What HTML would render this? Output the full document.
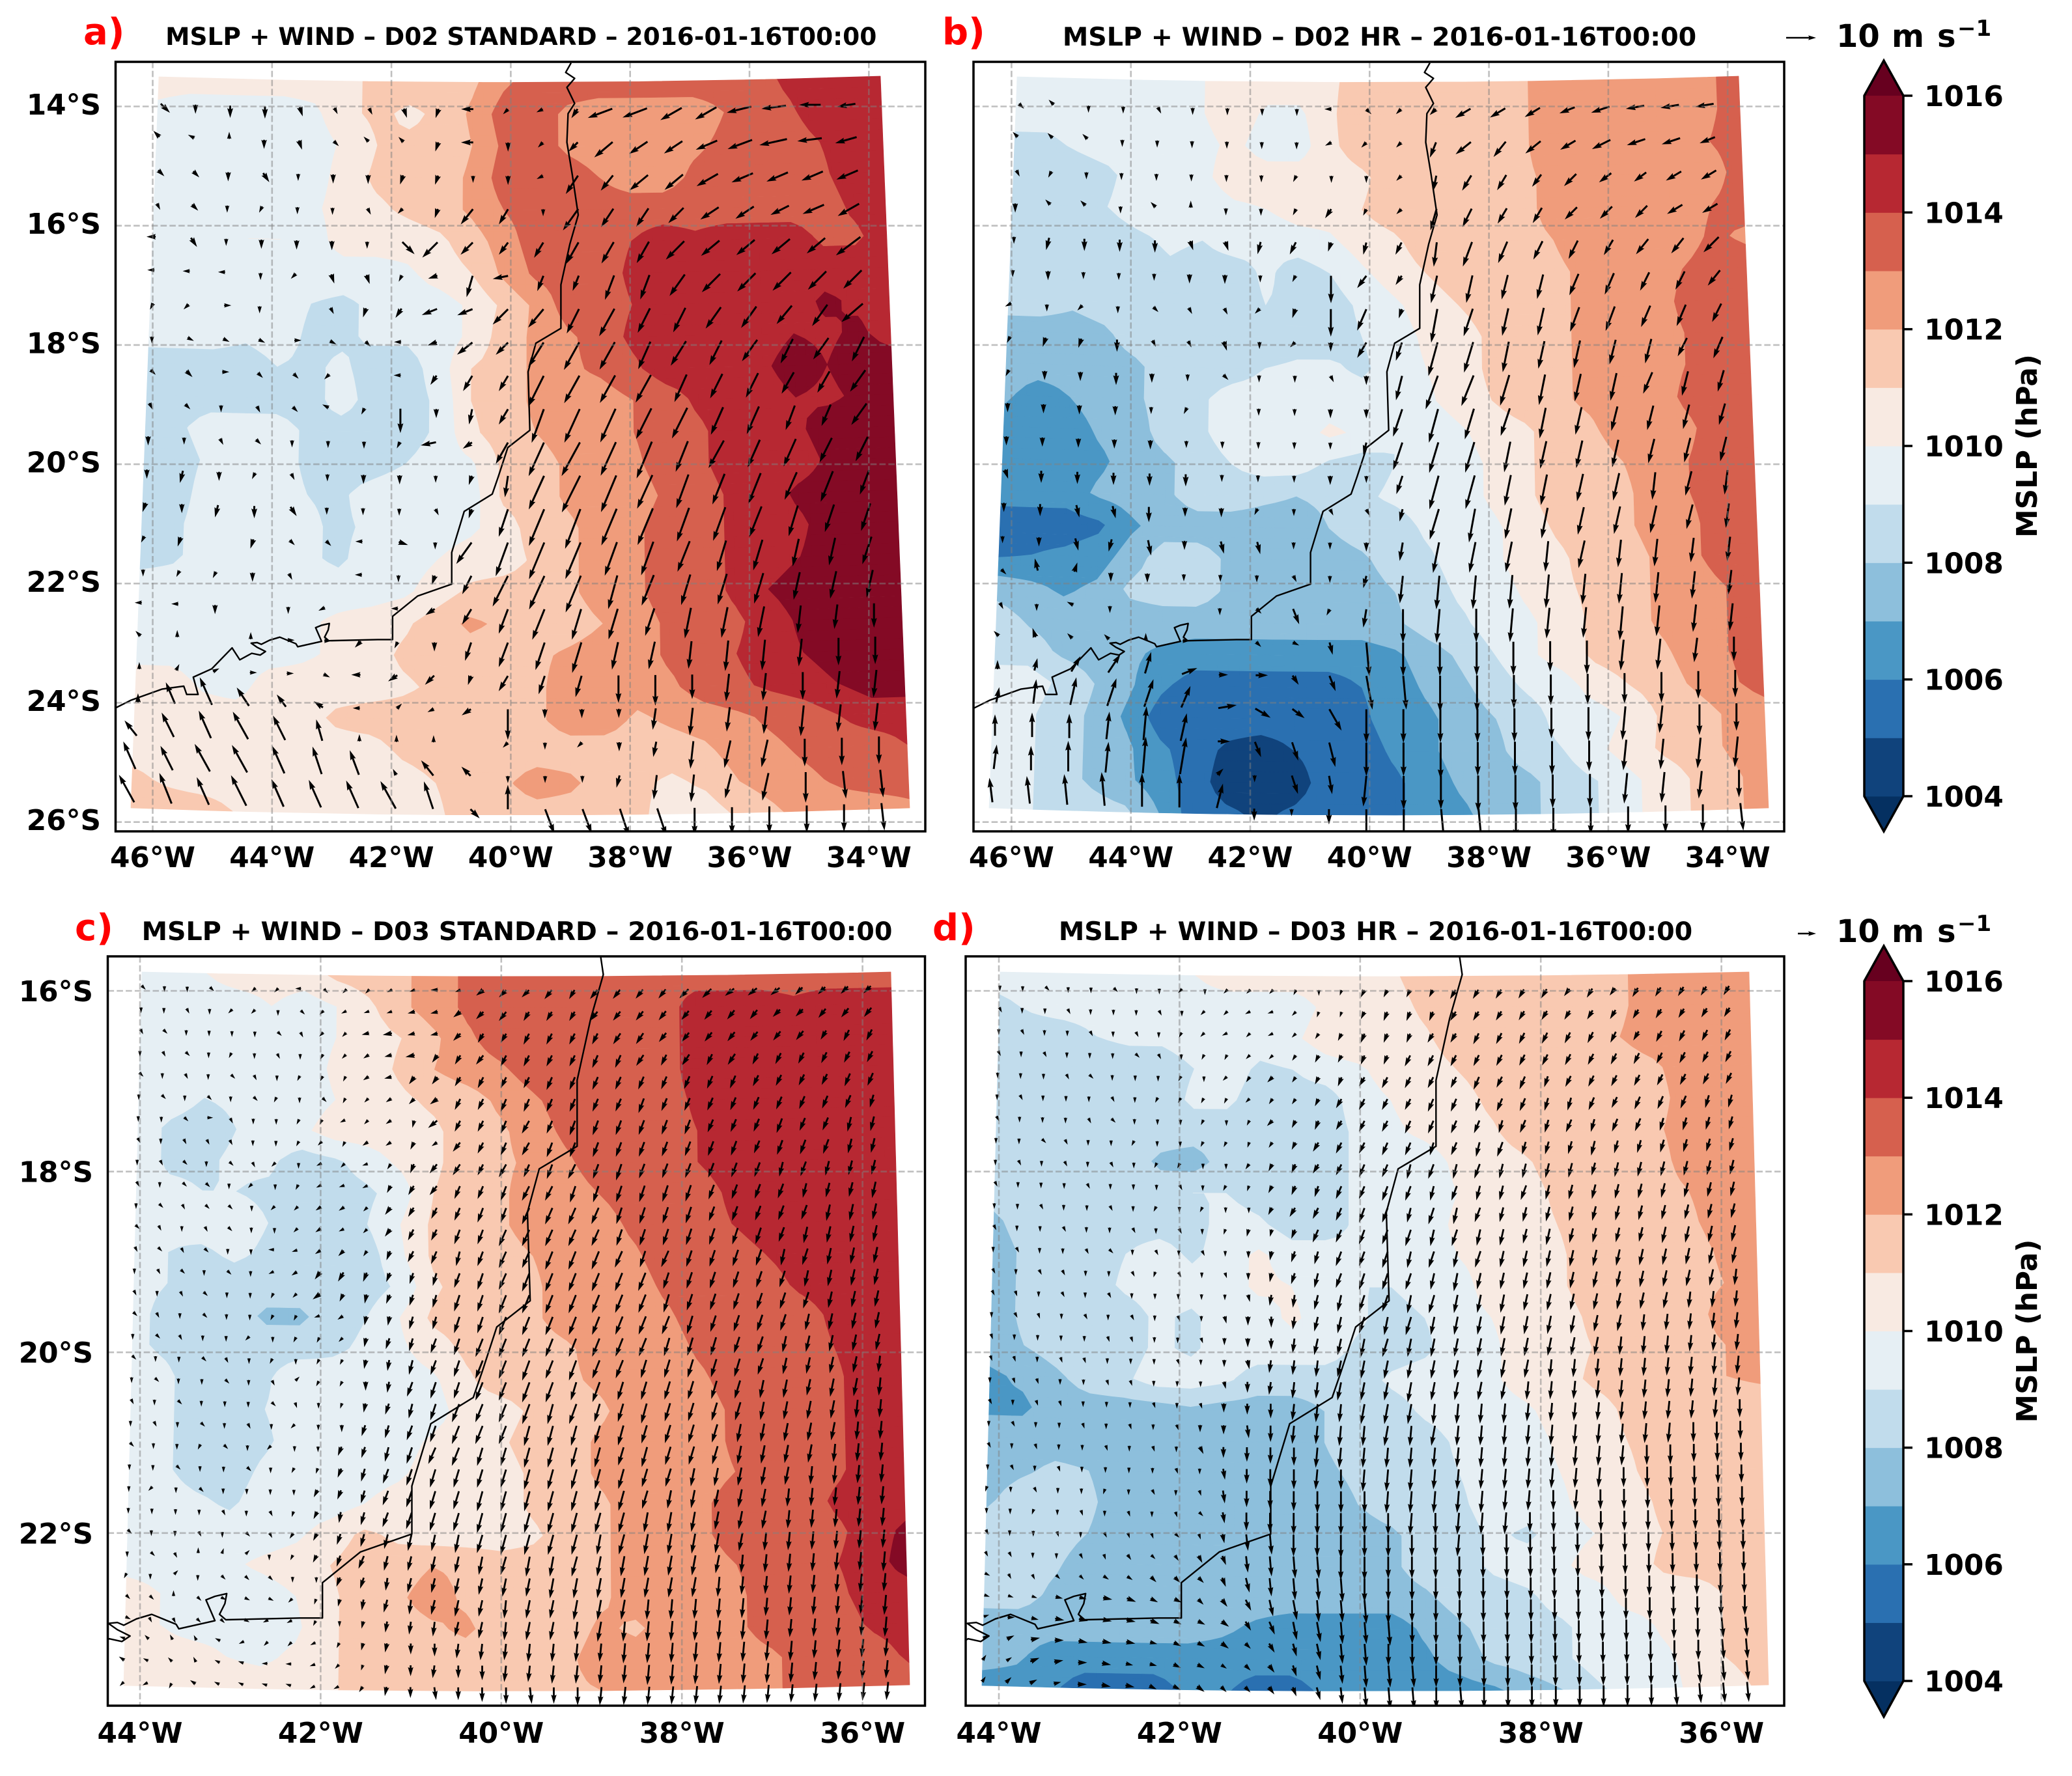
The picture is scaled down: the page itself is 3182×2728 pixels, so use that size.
<!DOCTYPE html>
<html lang="en">
<head>
<meta charset="utf-8">
<title>MSLP and wind comparison</title>
<style>
html,body{margin:0;padding:0;background:#fff}
svg{display:block}
text{font-family:"DejaVu Sans","Liberation Sans",sans-serif;font-weight:bold;fill:#000}
</style>
</head>
<body>
<svg id="figure" xmlns="http://www.w3.org/2000/svg" width="3182" height="2728" viewBox="0 0 3182 2728"></svg>
<script>
// Pressure grids: tenths of hPa above 1000, rows north to south, columns west to east across the model domain.
const mslpA=[
[105,105,105,105,105,105,105,115,115,115,118,128,135,135,135,135,135,135,135,135,142,145,145,145],
[98,95,95,95,95,98,108,112,108,112,122,135,135,128,125,125,125,125,130,135,138,145,145,145],
[100,95,95,95,95,95,102,110,112,112,120,132,135,128,125,125,125,128,132,135,135,140,145,145],
[95,95,95,95,95,95,105,112,115,115,122,135,135,135,130,125,125,132,135,135,135,138,145,145],
[95,95,95,95,95,98,105,108,112,115,122,130,135,135,135,135,135,135,135,135,135,135,142,145],
[95,95,95,100,100,95,105,105,105,108,115,125,135,135,135,140,145,142,145,145,145,138,138,145],
[95,95,95,95,95,95,95,95,98,105,110,122,132,135,135,142,145,145,145,145,145,145,145,145],
[95,95,95,95,95,90,88,92,95,95,102,112,122,135,135,140,145,145,145,145,145,152,148,145],
[95,95,95,92,95,88,88,92,92,95,102,115,122,128,135,142,145,145,145,145,150,148,152,145],
[85,85,85,85,90,88,92,85,85,95,110,115,122,128,132,138,145,145,145,148,155,150,155,155],
[85,85,85,85,85,85,95,85,85,92,110,115,122,125,125,130,135,142,145,145,150,148,152,155],
[85,88,95,95,95,88,85,85,85,92,108,115,120,125,125,130,135,138,145,145,148,155,155,155],
[85,85,92,95,95,88,85,85,90,95,98,112,115,122,125,128,135,138,145,145,145,152,155,155],
[85,85,95,95,95,90,88,95,98,95,95,112,115,122,125,125,132,135,142,145,152,155,155,155],
[85,88,95,95,95,92,88,92,95,95,98,105,115,118,125,128,135,135,142,145,148,155,155,155],
[85,88,95,95,95,92,88,95,95,100,105,105,112,118,125,128,135,135,142,145,150,155,155,155],
[95,95,95,95,95,95,95,95,98,105,112,115,115,118,125,128,135,135,142,150,155,155,155,155],
[95,92,90,95,95,98,102,105,108,115,122,118,115,115,120,125,132,135,138,145,152,155,155,155],
[95,95,95,95,95,98,102,105,112,115,115,115,118,122,125,125,132,135,140,145,150,155,155,155],
[105,105,98,95,105,105,105,105,108,112,115,115,118,125,128,125,128,135,138,142,145,150,155,155],
[105,105,105,105,105,105,112,115,115,115,115,115,118,125,125,118,122,125,128,132,135,140,145,145],
[105,105,105,105,105,105,105,105,112,115,115,115,115,115,115,115,115,118,125,128,132,135,135,140],
[112,108,105,105,105,105,105,105,105,110,115,118,125,122,115,112,108,112,120,125,128,132,135,135],
[115,115,115,110,105,105,105,105,105,108,115,115,115,115,115,112,105,105,112,118,125,125,125,128]];
const mslpB=[
[95,95,95,95,95,95,100,105,105,105,108,115,115,115,115,115,118,125,125,125,125,125,128,135],
[95,95,95,95,95,95,100,105,98,98,108,118,115,115,115,115,118,125,125,125,125,125,128,135],
[88,88,92,95,95,95,98,102,95,95,108,115,118,115,115,115,118,125,125,125,125,125,130,135],
[85,85,85,88,95,95,98,105,105,105,105,108,115,115,115,115,118,122,125,125,125,125,125,135],
[85,85,85,90,95,95,95,98,100,105,105,110,115,115,115,115,118,122,125,125,125,125,130,135],
[85,85,85,85,88,92,90,95,92,95,98,105,108,115,115,115,118,120,125,125,125,125,132,128],
[85,85,85,85,85,88,85,85,92,85,90,98,105,110,115,115,115,118,122,125,125,130,135,135],
[85,85,82,85,85,85,85,85,90,88,85,92,98,105,110,115,115,118,122,125,125,132,135,135],
[75,75,75,78,85,85,85,85,82,85,85,90,95,102,105,112,115,118,122,125,125,130,135,135],
[75,75,75,75,78,85,85,85,90,92,92,88,95,100,105,112,115,118,122,125,125,130,135,135],
[72,65,70,75,78,85,88,95,95,100,95,95,92,98,105,110,115,118,122,125,125,132,135,135],
[65,65,65,72,75,85,88,95,95,95,102,98,90,92,98,105,108,115,118,125,125,128,135,135],
[65,65,65,68,75,78,85,90,95,95,88,85,90,95,95,102,108,115,115,120,125,130,135,135],
[65,65,65,72,75,78,85,85,82,80,82,88,92,95,95,102,108,115,115,118,125,130,135,135],
[55,55,55,58,68,75,75,75,75,75,80,85,85,92,95,98,105,112,115,118,125,128,135,135],
[58,60,62,65,75,85,85,78,75,75,75,78,85,88,95,98,105,108,115,115,122,128,135,135],
[75,72,68,72,82,85,85,78,75,75,75,75,80,85,92,95,102,108,112,115,122,125,130,135],
[85,78,75,75,75,75,75,75,75,75,75,75,78,85,88,95,98,105,112,115,122,125,130,135],
[85,85,78,75,72,68,65,65,65,65,65,65,68,75,82,90,98,105,112,115,118,125,130,135],
[95,95,88,80,72,62,55,55,55,55,55,60,65,72,78,85,92,95,105,110,115,122,128,135],
[95,92,85,78,68,55,55,55,55,55,55,58,65,68,75,80,85,95,95,102,112,115,122,125],
[95,92,85,78,72,62,55,48,45,50,55,55,62,68,75,78,85,90,98,105,112,115,122,125],
[95,92,85,78,72,65,55,45,45,45,55,55,58,65,72,75,78,85,90,98,105,112,118,125],
[95,92,85,85,82,70,55,52,48,52,55,55,58,65,68,75,78,85,90,98,105,112,118,125]];
const mslpC=[
[95,95,100,105,105,105,112,115,118,125,132,135,135,135,135,135,135,135,135,135,135,135,135,135],
[95,95,95,95,100,95,100,108,118,125,132,135,135,135,135,135,135,145,145,145,142,145,145,145],
[95,95,95,95,95,95,100,105,110,118,128,135,135,135,135,135,135,145,145,145,145,145,145,145],
[95,95,95,95,95,95,102,105,112,120,125,128,135,135,135,135,135,145,145,145,145,145,145,145],
[95,95,90,92,95,95,100,105,108,112,115,122,128,135,135,135,135,142,145,145,145,145,145,145],
[95,88,85,90,95,98,105,105,105,108,115,118,125,132,135,135,135,140,145,145,145,145,145,145],
[95,88,88,92,92,85,88,95,102,108,115,118,122,128,135,135,135,140,145,145,145,145,145,150],
[92,92,90,90,88,85,85,88,95,110,115,118,125,125,130,135,135,135,142,145,145,145,145,148],
[92,92,95,95,90,85,85,90,100,112,115,118,125,125,125,132,135,135,140,145,145,145,145,145],
[92,90,88,92,88,85,85,85,98,112,115,115,120,125,125,128,135,135,135,140,145,145,145,145],
[92,90,85,85,85,85,85,85,92,108,115,115,118,125,125,125,132,135,135,135,142,145,145,145],
[92,88,85,85,78,78,85,90,100,112,115,115,118,125,125,125,128,135,135,135,135,142,145,145],
[92,88,85,85,85,85,88,92,98,105,112,115,115,118,125,125,125,132,135,135,135,140,145,145],
[95,92,85,85,88,98,95,95,95,98,108,115,115,118,122,125,125,128,135,135,135,138,145,145],
[95,92,85,85,90,95,95,95,95,95,105,105,112,115,118,125,125,125,132,135,135,138,145,145],
[95,92,85,85,88,95,100,98,95,102,105,108,115,115,122,125,125,125,132,135,135,138,145,145],
[95,92,85,85,92,95,95,95,98,105,105,105,112,115,122,125,125,125,130,135,135,138,145,145],
[95,95,92,88,95,95,95,100,105,105,105,105,112,115,118,125,125,128,135,135,135,142,145,145],
[95,95,95,95,95,98,105,112,108,105,105,105,108,115,118,125,125,128,135,135,135,138,145,152],
[95,95,95,98,102,105,110,115,115,120,118,115,115,115,118,125,125,125,130,135,135,140,145,155],
[105,100,95,95,95,100,108,115,118,125,118,115,115,115,118,125,125,125,128,135,135,138,145,145],
[100,100,95,95,95,98,108,115,115,118,122,115,115,115,122,118,125,125,128,135,135,135,142,145],
[105,105,105,100,98,102,108,115,115,115,115,115,115,118,125,125,125,125,125,128,135,135,135,142],
[105,105,105,105,105,105,108,115,118,118,115,115,115,118,120,125,125,125,125,128,135,135,135,135]];
const mslpD=[
[95,95,95,95,95,95,100,105,105,105,105,105,108,115,115,115,115,115,115,118,125,125,125,125],
[88,92,95,95,95,95,95,95,95,95,102,105,105,112,115,115,115,115,115,118,125,125,125,125],
[85,85,85,90,92,92,95,95,95,98,105,108,105,108,115,115,115,115,115,120,125,125,125,125],
[85,85,85,85,85,85,90,95,88,90,95,98,105,105,110,115,115,115,115,115,118,125,125,125],
[85,85,85,85,85,85,92,92,85,85,85,95,100,105,105,112,115,115,115,115,115,125,125,125],
[85,85,85,85,85,85,85,85,85,80,85,92,98,102,105,108,115,115,115,115,118,125,125,125],
[85,85,85,85,85,78,75,85,85,85,85,92,95,95,102,105,108,115,115,115,115,125,125,125],
[85,85,85,82,85,85,90,90,85,85,85,92,95,95,100,105,105,112,115,115,115,120,125,125],
[78,85,85,85,85,85,85,95,92,85,85,92,95,95,102,105,105,110,115,115,115,118,125,125],
[75,82,85,85,90,95,88,95,102,95,95,92,92,95,100,105,105,108,115,115,115,115,122,125],
[75,82,85,85,92,95,95,95,102,100,95,90,90,95,95,105,105,108,115,115,115,115,120,125],
[75,82,85,85,85,92,88,95,95,102,95,92,85,90,95,100,105,105,112,115,115,115,125,125],
[75,80,85,85,85,92,88,95,95,95,95,88,85,88,95,98,105,105,110,115,115,115,120,125],
[68,72,78,85,88,95,95,92,85,85,85,85,92,95,95,98,105,105,112,115,115,115,120,122],
[68,68,75,75,75,75,78,75,75,75,80,85,85,92,95,95,98,105,105,112,115,115,115,115],
[75,75,75,75,75,75,75,75,75,75,80,85,85,85,92,95,95,102,105,110,115,115,115,115],
[75,78,82,80,75,75,75,75,75,75,78,82,85,85,90,95,95,100,105,108,115,115,115,115],
[78,85,85,82,75,75,75,75,75,75,75,80,85,85,88,95,95,98,105,105,112,115,115,115],
[85,85,85,80,75,75,75,72,75,75,75,75,78,85,85,92,88,95,100,105,110,115,115,115],
[85,85,82,75,72,72,75,75,75,75,75,75,78,85,85,92,95,98,105,105,112,115,115,115],
[85,85,78,75,75,75,75,75,75,75,75,75,75,78,85,85,88,95,95,105,105,105,112,115],
[75,75,75,75,75,75,75,72,68,65,65,65,65,72,78,85,85,88,95,95,102,105,112,115],
[75,72,65,65,65,65,65,65,65,65,65,65,65,68,75,82,85,88,95,95,98,105,112,118],
[65,65,62,55,55,55,62,62,55,55,62,65,65,65,65,68,75,80,88,95,95,105,105,115]];

// Wind components in m/s, one row per arrow row.
const windUA=[
[3,0,0,0,1,1,1,1,-1,-4,-1,-2,-2,-8,-8,-7,-7,-8,-8,-7,-6],
[-2,-2,0,0,1,1,-1,-1,-1,-4,0,-1,-3,-6,-6,-6,-7,-8,-9,-8,-7],
[2,2,0,2,0,0,0,-1,-1,0,0,-2,-4,-4,-6,-6,-7,-7,-7,-7,-7],
[1,2,0,-1,0,0,1,-1,-1,-4,-3,0,-5,-4,-4,-5,-6,-6,-6,-7,-7],
[-3,2,0,0,0,0,0,4,-5,-4,-3,-3,-4,-4,-4,-6,-6,-6,-6,-6,-8],
[-2,-2,-1,0,-1,1,1,-1,-3,-2,-5,-2,-2,-3,-3,-5,-6,-6,-6,-6,-6],
[-1,-1,1,0,0,1,-1,-2,-5,-5,-5,-5,-4,-5,-4,-4,-5,-5,-5,-5,-7],
[0,2,2,2,2,2,1,-2,-3,-5,-4,-5,-5,-5,-4,-5,-4,-5,-4,-5,-4],
[1,2,2,1,1,-1,0,-2,-2,-3,-3,-5,-5,-5,-5,-4,-4,-4,-4,-4,-5],
[1,1,0,1,1,-2,-1,0,0,-1,-3,-4,-5,-5,-5,-5,-4,-4,-3,-3,-5],
[0,0,1,1,0,0,0,-1,-5,-3,-4,-5,-6,-5,-5,-4,-5,-4,-4,-4,-4],
[0,-1,0,-1,1,0,0,0,0,-1,-1,-5,-6,-5,-5,-4,-4,-4,-4,-4,-3],
[-1,0,-1,0,2,0,0,0,1,-1,-3,-5,-5,-5,-5,-4,-4,-4,-3,-3,-3],
[-1,-1,0,-1,1,1,-1,3,0,-5,-4,-5,-5,-4,-4,-4,-3,-3,-2,-2,-3],
[0,-1,-1,0,1,0,-1,0,-1,-3,-5,-5,-5,-3,-4,-3,-3,-3,-2,-2,-2],
[-1,-1,0,0,0,-2,0,-2,-3,-3,-3,-4,-3,-3,-3,-2,-2,-2,-1,-1,0],
[-1,0,0,0,1,2,-2,-1,0,-2,-3,-3,-3,-2,-2,-1,-1,-1,-1,0,0],
[0,1,2,2,2,2,-3,-3,-3,-1,-3,-2,-2,0,0,0,-1,-1,0,-1,-1],
[0,-3,-4,-4,-3,-3,-1,1,-2,-3,0,0,0,0,-1,-1,-1,-1,-1,-1,-1],
[-4,-4,-4,-5,-4,-2,0,0,0,0,-1,0,-1,0,-1,-1,-2,-2,0,0,0],
[-4,-4,-5,-5,-4,-3,-3,-1,-4,-3,0,0,0,-1,-1,-1,-2,-2,0,1,1],
[-5,-4,-4,-5,-4,-4,-4,-5,-3,3,0,3,3,3,3,0,0,0,0,0,1]];
const windVA=[
[-3,-3,-4,-4,-3,-2,-2,-3,-3,0,-1,-1,-3,-3,-3,-4,-4,-2,-1,0,-1],
[2,1,1,-3,-3,-1,1,1,-3,0,-3,-1,-3,-5,-4,-4,-3,-3,-2,-1,-2],
[-2,-2,-3,-3,-2,-3,-3,-3,-3,-2,-3,-1,-6,-5,-5,-5,-4,-3,-3,-3,-3],
[-2,-2,-2,-2,-1,-2,-2,-1,-3,-5,-5,-1,-7,-6,-6,-5,-4,-4,-3,-3,-4],
[0,-3,-2,-3,-3,-3,-2,-4,-5,-4,-4,-5,-7,-7,-7,-6,-5,-5,-5,-5,-6],
[0,0,0,-1,-1,-3,-3,-2,-1,-7,-1,-5,-5,-8,-8,-7,-6,-6,-6,-6,-6],
[-2,-1,0,-1,0,-2,-3,-3,-2,-2,-5,-6,-8,-9,-8,-8,-7,-7,-6,-7,-6],
[-2,-1,-1,-1,0,-1,-1,0,-1,-4,-4,-8,-9,-9,-9,-8,-8,-7,-8,-7,-8],
[-1,-2,0,-1,-1,-1,0,0,-3,-5,-5,-10,-9,-9,-9,-9,-8,-8,-7,-7,-7],
[-2,-1,-2,-2,-1,1,-2,-8,-3,-5,-5,-11,-11,-11,-10,-10,-9,-9,-8,-7,-7],
[-3,-2,-2,-1,-2,-1,-1,-2,-1,-2,-7,-11,-11,-11,-12,-10,-9,-9,-9,-8,-8],
[-3,-4,-3,-2,-2,-1,-3,-3,-2,-3,-7,-11,-12,-12,-11,-11,-10,-10,-9,-10,-8],
[-3,-3,-4,-4,-3,-1,-1,-2,-2,-3,-9,-12,-13,-12,-12,-11,-11,-10,-10,-9,-9],
[-2,-3,0,-3,-1,-1,0,-1,-2,-7,-11,-12,-12,-11,-11,-10,-10,-10,-9,-9,-9],
[-2,-2,-2,-3,-2,0,0,-1,-3,-6,-10,-11,-12,-11,-10,-10,-10,-10,-9,-9,-9],
[0,0,-3,0,-2,-1,0,0,-2,-5,-8,-10,-10,-10,-9,-10,-10,-10,-9,-8,-8],
[1,1,0,1,0,0,-2,-2,-3,-6,-8,-9,-10,-9,-9,-9,-10,-10,-9,-9,-9],
[2,2,1,0,0,-1,0,-2,-3,-3,-5,-6,-7,-9,-10,-8,-9,-9,-9,-9,-9],
[3,7,9,6,4,2,0,1,-1,-2,-10,-3,-3,-3,-7,-9,-8,-9,-10,-9,-9],
[5,8,9,9,8,7,1,1,1,0,-1,-1,-1,-3,-5,-9,-9,-9,-9,-9,-9],
[9,8,9,9,9,9,8,2,5,3,-1,-1,-1,-4,-8,-9,-8,-9,-10,-9,-9],
[9,10,9,10,9,9,9,9,9,-3,8,-8,-8,-9,-9,-9,-9,-9,-9,-9,-9]];
const windUB=[
[1,-1,0,0,1,0,0,0,0,-2,1,-1,-2,-5,-5,-5,-5,-6,-6,-6,-6],
[-1,-1,-1,0,0,0,0,0,0,-2,-1,-1,-2,-5,-4,-5,-5,-6,-6,-6,-5],
[1,-1,0,0,0,0,0,0,-1,0,0,-1,-1,-3,-3,-3,-4,-4,-4,-5,-5],
[0,-1,-1,0,-1,0,0,0,-1,-2,-1,-1,-2,-3,-3,-3,-4,-4,-4,-5,-5],
[0,-1,0,0,0,1,1,-1,-2,-1,-1,-2,-1,-3,-3,-3,-3,-3,-4,-4,-5],
[0,0,0,0,0,0,0,0,-1,0,-3,-2,-2,-2,-2,-2,-3,-3,-3,-3,-4],
[-2,0,-1,0,1,1,1,-1,-1,0,-3,-1,-2,-3,-2,-2,-3,-3,-3,-3,-3],
[-1,-1,-1,0,1,1,1,0,-1,0,-3,-2,-3,-3,-2,-2,-2,-2,-2,-3,-3],
[-1,0,0,0,0,0,1,0,0,1,0,-2,-4,-4,-3,-2,-2,-2,-3,-2,-2],
[0,0,0,0,0,-1,0,0,0,0,0,-3,-3,-3,-3,-2,-2,-2,-2,-2,-2],
[0,0,0,0,0,0,0,0,0,0,-1,-3,-3,-3,-2,-2,-2,-2,-2,-2,-2],
[1,0,0,0,0,0,0,0,0,0,0,-2,-3,-3,-2,-2,-2,-2,-1,-2,-1],
[0,0,1,1,0,0,0,-1,0,1,1,-1,-3,-2,-2,-2,-2,-2,-2,-2,-1],
[0,0,1,-1,1,0,1,1,0,0,0,-1,-2,-2,-2,-1,-2,-1,-1,-1,-1],
[1,-1,1,0,0,0,0,0,1,0,-1,-1,-1,-1,-1,-1,-1,-1,-1,-1,-1],
[1,0,-2,0,0,0,0,1,2,-1,-1,0,-1,0,-1,-1,-1,-1,-1,-1,-1],
[-1,-1,-1,-1,0,1,0,1,2,1,1,0,0,0,0,0,0,-1,-1,-1,0],
[0,1,3,4,2,5,3,4,2,2,2,1,0,0,0,0,0,0,0,0,0],
[1,1,2,3,3,3,6,5,4,4,0,0,0,0,0,0,0,-1,-1,0,0],
[0,0,0,1,1,2,4,2,2,2,0,0,0,0,0,0,0,-1,-1,-1,-1],
[1,0,0,1,1,2,2,0,2,1,-1,0,0,0,0,0,0,-1,-1,-1,0],
[-1,-1,-1,-1,0,0,2,0,0,0,0,0,1,1,0,0,0,0,0,0,1]];
const windVB=[
[-1,1,-2,-2,-2,-1,-1,-2,-2,0,-1,-1,-2,-3,-3,-3,-2,-2,-1,-1,-1],
[1,1,1,-2,-2,-2,-2,-2,-2,-1,-1,-1,-5,-4,-5,-4,-3,-3,-2,-2,-2],
[-2,-2,-2,-2,-2,-2,-2,-2,-2,-1,-2,-1,-5,-5,-5,-4,-4,-3,-3,-3,-3],
[-3,1,1,-1,1,1,-2,-1,-2,-3,-2,-1,-7,-6,-5,-5,-4,-4,-4,-3,-3],
[-1,-4,-4,-4,-4,-3,-3,-4,-4,-3,-4,-4,-8,-8,-7,-6,-6,-5,-5,-5,-5],
[-2,-3,-2,-1,-1,-3,-3,-2,-2,-9,-4,-3,-9,-9,-8,-8,-7,-7,-6,-6,-5],
[-1,-2,-1,-2,-1,-2,-2,-1,-3,-9,-7,-3,-11,-9,-9,-9,-8,-8,-7,-7,-6],
[-2,-3,-3,-4,-2,-2,-3,-2,-1,-3,-5,-6,-11,-10,-10,-9,-9,-8,-8,-6,-7],
[-2,-3,-3,-4,-3,-2,-1,-1,-2,-2,-3,-8,-11,-10,-10,-10,-9,-9,-7,-8,-7],
[-3,-3,-3,-3,-2,-2,0,-2,-2,-3,-3,-9,-11,-10,-9,-10,-9,-8,-8,-8,-7],
[-3,-3,-3,-3,-3,-2,-2,-2,-2,-2,-4,-9,-10,-10,-10,-9,-9,-9,-8,-8,-8],
[-3,-4,-4,-4,-4,-4,-1,-2,-2,-3,-2,-6,-11,-11,-10,-10,-9,-9,-9,-8,-8],
[-3,-4,-4,-4,-5,-3,-3,-2,-2,-2,-2,-4,-10,-11,-10,-10,-9,-9,-9,-8,-8],
[-2,-3,-4,-4,-5,-3,-4,-4,-2,-2,-3,-6,-10,-10,-10,-10,-9,-9,-9,-8,-8],
[-1,4,3,-3,-3,-1,-1,-1,-2,-1,-4,-9,-11,-11,-11,-11,-10,-10,-10,-9,-8],
[-2,-2,1,-1,0,0,-1,-1,-5,-2,-6,-11,-11,-11,-11,-10,-10,-11,-10,-9,-9],
[1,3,1,1,1,0,0,-1,-1,-4,-11,-11,-11,-11,-11,-10,-11,-10,-10,-8,-8],
[3,4,5,6,7,2,0,0,-3,-5,-11,-11,-12,-12,-11,-10,-10,-10,-10,-9,-9],
[5,8,9,9,9,7,1,-3,-3,-7,-11,-11,-11,-11,-11,-10,-11,-11,-9,-10,-9],
[7,8,8,9,11,9,0,-5,-6,-8,-11,-11,-12,-11,-11,-11,-10,-10,-10,-10,-10],
[8,8,10,10,12,12,2,-1,-6,-6,-10,-11,-11,-12,-12,-11,-11,-10,-10,-9,-9],
[8,9,10,11,11,11,8,-4,-1,-5,-10,-11,-11,-11,-10,-10,-9,-9,-9,-9,-9]];
const windUC=[
[2,0,0,1,0,-1,-1,-1,1,-1,-1,-2,-3,-4,-3,-4,-4,-4,-4,-3,-4,-4,-4,-4,-5,-5,-5,-5,-5,-4,-4,-4,-4],
[0,0,1,0,-1,-1,0,1,-1,-2,-3,-3,-4,-4,-4,-4,-4,-3,-3,-3,-4,-4,-4,-4,-4,-4,-4,-4,-4,-4,-4,-4,-4],
[1,1,0,0,0,0,1,1,-1,-2,-4,-5,-4,-4,-4,-3,-3,-3,-3,-3,-3,-4,-4,-4,-4,-4,-4,-4,-4,-4,-3,-3,-3],
[0,1,1,0,-1,0,1,0,-1,-2,-3,-4,-5,-3,-3,-4,-3,-3,-3,-3,-3,-3,-4,-3,-4,-3,-4,-3,-3,-3,-3,-3,-3],
[1,0,1,0,1,1,0,-1,-1,-1,-3,-4,-3,-3,-3,-3,-3,-3,-3,-3,-3,-3,-3,-3,-3,-3,-3,-3,-3,-3,-3,-3,-3],
[0,1,0,1,0,1,-1,0,1,-1,-2,-3,-3,-4,-3,-3,-3,-3,-3,-3,-3,-3,-3,-3,-3,-3,-3,-3,-3,-3,-3,-3,-2],
[0,0,1,2,1,0,0,-1,-1,-2,-2,-3,-1,-5,-3,-3,-3,-4,-3,-3,-3,-3,-3,-3,-3,-3,-3,-3,-3,-3,-3,-2,-2],
[1,0,1,1,1,0,0,-1,-1,-1,-3,-3,-2,-3,-4,-3,-3,-4,-3,-3,-3,-3,-3,-3,-3,-3,-3,-3,-3,-3,-3,-2,-2],
[0,1,1,0,1,1,-1,0,-2,-2,-3,-2,-2,-4,-4,-3,-4,-3,-3,-4,-3,-3,-3,-3,-3,-3,-3,-3,-2,-3,-2,-2,-2],
[1,0,1,1,0,-1,0,-1,-2,-3,-2,-2,-3,-4,-3,-3,-3,-4,-4,-3,-3,-3,-3,-3,-3,-3,-3,-3,-3,-2,-2,-2,-2],
[0,1,1,1,1,0,-1,-1,-3,-3,-2,-3,-3,-3,-3,-3,-3,-4,-4,-4,-4,-3,-3,-3,-3,-3,-3,-3,-3,-3,-2,-2,-2],
[1,1,0,1,1,0,0,-1,-3,-2,-2,-3,-3,-3,-3,-3,-4,-4,-4,-4,-4,-3,-3,-3,-3,-3,-3,-3,-3,-2,-2,-2,-2],
[1,1,1,1,0,0,-1,-3,-3,-3,-2,-2,-3,-3,-2,-3,-4,-4,-4,-4,-4,-4,-3,-4,-3,-3,-3,-3,-2,-3,-2,-2,-2],
[0,1,1,0,1,0,-2,-3,-3,-3,-2,-2,-2,-2,-3,-3,-4,-4,-4,-4,-4,-4,-4,-3,-3,-3,-3,-3,-3,-2,-2,-2,-2],
[1,0,1,1,0,0,-1,-2,-4,-2,-1,-2,-2,-2,-3,-3,-4,-4,-4,-4,-4,-4,-4,-3,-3,-3,-3,-3,-3,-3,-2,-2,-2],
[1,1,0,1,0,0,-1,-1,-3,-3,-1,-1,-2,-2,-3,-3,-4,-4,-4,-4,-4,-4,-4,-4,-3,-3,-3,-3,-3,-2,-2,-2,-2],
[0,1,1,0,0,-1,0,-1,-1,-2,-1,-2,-2,-3,-3,-4,-4,-4,-4,-4,-4,-4,-4,-3,-3,-3,-3,-3,-2,-2,-2,-2,-2],
[1,0,0,1,1,0,-1,0,-1,-1,-1,-1,-2,-3,-3,-4,-4,-4,-4,-4,-4,-4,-3,-3,-3,-3,-3,-3,-2,-2,-2,-2,-1],
[0,1,0,0,1,0,1,2,-1,-1,0,-1,-3,-3,-3,-4,-4,-4,-4,-3,-4,-3,-3,-3,-3,-3,-3,-2,-2,-2,-2,-2,-1],
[1,0,1,0,0,0,1,1,0,-1,-1,-2,-2,-3,-4,-4,-4,-4,-3,-4,-3,-3,-3,-3,-3,-3,-3,-2,-2,-2,-2,-1,-1],
[0,1,0,1,0,1,0,-1,0,0,-2,-2,-3,-3,-4,-4,-4,-3,-3,-3,-3,-3,-3,-3,-3,-3,-2,-2,-2,-2,-2,-1,-1],
[1,0,0,-1,1,0,-1,0,0,-2,-2,-2,-3,-4,-4,-3,-3,-3,-3,-3,-3,-3,-3,-3,-3,-3,-2,-2,-2,-2,-1,-1,-1],
[0,0,1,0,0,1,0,-1,-1,-2,-2,-3,-3,-3,-3,-3,-3,-3,-3,-3,-3,-3,-3,-3,-2,-2,-2,-2,-2,-1,-1,-1,-1],
[0,-1,0,1,0,0,0,0,-2,-2,-2,-3,-3,-3,-3,-3,-3,-3,-3,-3,-3,-3,-3,-2,-2,-2,-2,-2,-1,-1,-1,-1,-1],
[0,0,0,0,1,0,1,-1,-2,-1,-2,-3,-3,-3,-3,-3,-3,-3,-3,-3,-3,-3,-2,-2,-2,-2,-2,-2,-1,-1,-1,-1,-1],
[1,0,0,1,0,1,1,-2,-2,-2,-2,-2,-2,-2,-2,-3,-3,-3,-3,-3,-2,-3,-2,-2,-2,-2,-2,-1,-1,-1,-1,-1,-1],
[0,1,1,0,1,1,0,-1,-2,-2,-3,-2,-2,-2,-2,-2,-3,-2,-2,-3,-2,-2,-2,-2,-2,-2,-1,-1,-1,-1,-1,-1,-1],
[-1,0,1,0,1,1,1,0,0,-2,-2,-1,-2,-2,-2,-2,-2,-2,-2,-2,-2,-2,-2,-2,-2,-1,-1,-1,-1,-1,-1,-1,-1],
[1,1,0,1,2,2,2,-2,-1,-1,-1,-2,-1,-2,-2,-2,-1,-2,-2,-2,-2,-2,-1,-1,-1,-1,-1,-1,-1,-1,-1,-1,-1],
[2,1,1,2,2,2,-2,-2,-1,0,-1,-1,-1,-1,-2,-2,-1,-2,-2,-1,-2,-1,-1,-1,-1,-1,-1,-1,-1,-1,-1,-1,-1],
[-3,-2,-1,-1,-2,-2,-1,-1,-2,-1,-1,-1,0,0,-1,-1,-1,-1,-1,-1,-1,-1,-1,-1,-1,-1,-1,-1,-1,-1,-1,-1,-1],
[-3,-2,-2,-1,-2,-3,-3,-3,-3,-2,-1,-1,0,-1,0,0,-1,-1,-1,-1,-1,-1,-1,-1,-1,-1,-1,-1,-1,-1,-1,-1,-1],
[-2,-2,-1,-3,-2,-2,-3,-3,-2,-2,-2,-1,0,1,0,0,0,1,0,0,-1,-1,-1,-1,-1,-1,-1,-1,-1,-1,-1,-1,-1]];
const windVC=[
[-2,-2,-2,-1,0,-1,-1,0,-1,-1,-1,-1,-1,0,-1,-3,-4,-4,-5,-5,-5,-5,-5,-5,-5,-5,-4,-4,-4,-4,-4,-4,-4],
[-2,-3,-2,-2,-1,-1,-1,-1,-1,-1,-1,-1,-1,-1,-3,-4,-5,-5,-5,-5,-5,-5,-5,-5,-5,-5,-5,-5,-4,-4,-5,-5,-5],
[-2,-1,-2,-2,-2,-2,-1,-2,-1,-2,-1,-1,-1,-1,-4,-5,-5,-6,-6,-6,-6,-6,-6,-5,-5,-5,-5,-5,-5,-5,-5,-6,-6],
[-2,-2,-1,-2,-2,-2,-2,-2,-2,-2,-2,-1,-1,-4,-5,-5,-6,-6,-6,-6,-7,-7,-6,-6,-6,-6,-6,-6,-6,-6,-6,-6,-6],
[-1,-2,-2,-2,-1,-2,-2,-2,-2,-2,-2,-1,-4,-4,-5,-6,-6,-6,-7,-7,-7,-7,-7,-7,-7,-7,-7,-6,-6,-6,-6,-7,-7],
[-2,-1,-2,-1,-2,-1,-2,-1,-1,-2,-2,-2,-3,-3,-6,-6,-7,-7,-7,-7,-7,-7,-8,-7,-7,-7,-7,-7,-7,-7,-7,-7,-7],
[-1,-2,-1,0,-2,-3,-2,-2,-2,-1,-2,-2,-4,-4,-6,-6,-7,-7,-7,-8,-8,-8,-8,-8,-8,-7,-7,-7,-8,-7,-7,-8,-8],
[-2,-1,-2,-2,-2,-1,-2,-2,-1,-2,-2,-2,-4,-2,-5,-6,-7,-7,-8,-8,-8,-8,-8,-8,-8,-8,-8,-7,-8,-8,-8,-8,-8],
[-1,-2,-1,-2,-1,-2,-1,-2,-1,-2,-1,-3,-5,-5,-6,-6,-7,-7,-8,-8,-8,-9,-8,-8,-8,-8,-8,-8,-8,-8,-8,-8,-8],
[-2,-2,-1,-1,-2,-1,-1,-2,-1,-1,-1,-4,-5,-5,-7,-7,-8,-8,-8,-9,-9,-9,-9,-9,-9,-8,-8,-8,-8,-8,-8,-8,-9],
[-2,-1,-2,-1,-1,-2,-1,-1,-2,-2,-2,-4,-5,-6,-7,-8,-8,-9,-9,-9,-9,-9,-9,-9,-9,-8,-8,-8,-8,-8,-9,-9,-9],
[-1,-2,-1,-2,-1,-2,-1,-1,-2,-1,-2,-4,-6,-6,-8,-8,-9,-9,-9,-9,-9,-9,-9,-9,-9,-9,-9,-9,-8,-9,-9,-9,-9],
[-2,-1,-2,-1,-2,-1,0,-1,-2,-3,-3,-5,-6,-7,-8,-8,-9,-9,-10,-10,-10,-9,-9,-9,-9,-9,-9,-9,-9,-9,-9,-9,-9],
[-1,-2,-1,-2,-1,-1,-1,-2,-4,-5,-5,-5,-6,-7,-8,-9,-9,-10,-10,-10,-10,-10,-10,-9,-9,-9,-9,-9,-9,-9,-9,-9,-9],
[-2,-1,-2,-1,-2,-1,-2,-2,-3,-4,-5,-5,-6,-7,-9,-9,-10,-10,-10,-10,-10,-10,-10,-10,-9,-9,-9,-9,-9,-9,-9,-9,-9],
[-1,-2,-1,-1,-2,-1,-2,-2,-1,-2,-5,-5,-7,-7,-9,-9,-10,-10,-10,-10,-10,-10,-10,-10,-10,-9,-9,-9,-9,-9,-9,-9,-9],
[-2,-1,-2,-2,-1,-1,-1,-2,-2,-2,-5,-6,-7,-8,-9,-10,-10,-10,-10,-10,-10,-10,-10,-10,-10,-10,-9,-9,-9,-9,-9,-9,-9],
[-1,-2,-1,-1,-2,-2,-2,-2,-2,-2,-5,-6,-8,-8,-9,-10,-10,-11,-10,-11,-10,-10,-10,-10,-10,-10,-10,-9,-9,-9,-9,-9,-9],
[-2,-1,-2,-2,-1,-2,-2,2,-2,-2,-5,-6,-8,-9,-9,-10,-10,-11,-11,-10,-11,-10,-10,-10,-10,-10,-10,-10,-10,-9,-10,-10,-10],
[-2,-2,-1,-1,-1,-2,-1,-3,-2,-3,-5,-6,-8,-9,-10,-10,-10,-11,-11,-11,-10,-10,-11,-10,-10,-10,-10,-10,-10,-10,-10,-10,-10],
[-1,-2,-2,-1,-2,-2,-1,-1,-1,-4,-6,-7,-8,-9,-10,-10,-10,-11,-11,-11,-10,-11,-10,-10,-10,-10,-10,-10,-10,-10,-10,-10,-10],
[-1,-1,-2,-2,-1,-1,-1,-1,-2,-5,-6,-8,-9,-9,-10,-10,-10,-11,-11,-11,-11,-10,-11,-10,-10,-10,-10,-10,-10,-10,-10,-10,-10],
[-2,-1,-1,-2,-1,-1,-1,-2,-3,-5,-7,-8,-9,-10,-10,-10,-10,-11,-11,-11,-11,-11,-10,-10,-10,-10,-10,-10,-10,-10,-10,-10,-10],
[-1,-1,-2,-1,-1,-1,-1,-2,-4,-5,-7,-8,-9,-10,-10,-11,-11,-11,-11,-11,-11,-11,-10,-10,-10,-10,-10,-10,-10,-10,-10,-10,-10],
[-1,-2,-1,-1,-2,-1,-2,-3,-4,-6,-7,-8,-9,-10,-10,-11,-11,-11,-11,-11,-11,-11,-11,-11,-11,-10,-10,-10,-10,-10,-10,-10,-10],
[-1,-1,-1,-2,-1,-1,-2,-3,-4,-6,-7,-8,-9,-9,-10,-10,-11,-11,-11,-11,-11,-11,-11,-11,-11,-11,-10,-10,-10,-10,-10,-10,-10],
[-1,-1,-2,1,3,1,-1,-2,-4,-6,-7,-8,-8,-9,-9,-10,-10,-11,-11,-11,-11,-11,-11,-11,-11,-10,-10,-10,-10,-10,-10,-10,-11],
[-2,-1,1,-1,-1,-1,-1,-2,-3,-5,-6,-7,-8,-8,-9,-9,-10,-10,-11,-11,-11,-11,-11,-11,-11,-11,-10,-10,-10,-10,-10,-10,-10],
[-1,-1,1,-1,-1,-1,-1,-2,-3,-4,-6,-7,-8,-8,-9,-9,-10,-10,-10,-11,-11,-11,-11,-11,-11,-11,-11,-10,-10,-10,-10,-10,-11],
[-1,-2,-2,-2,-2,-1,-1,-1,-2,-3,-4,-6,-7,-8,-8,-9,-10,-10,-10,-10,-11,-11,-11,-11,-11,-11,-11,-11,-10,-10,-10,-10,-11],
[1,2,2,2,1,-1,-1,-1,-1,-2,-4,-5,-6,-7,-8,-9,-9,-10,-10,-10,-10,-11,-11,-11,-11,-11,-11,-11,-11,-10,-10,-10,-10],
[2,1,2,2,1,1,0,0,-1,-2,-3,-5,-6,-7,-7,-8,-9,-9,-10,-10,-10,-10,-11,-11,-11,-11,-11,-11,-11,-10,-10,-10,-10],
[-2,-1,-2,2,1,1,1,1,-1,-1,-3,-5,-6,-7,-7,-8,-9,-9,-9,-10,-10,-10,-10,-10,-10,-10,-10,-10,-10,-10,-10,-10,-10]];
const windUD=[
[0,0,1,0,0,1,0,0,-1,0,-1,-1,-2,-1,0,-1,-2,-2,-2,-2,-3,-3,-3,-3,-3,-3,-3,-3,-3,-3,-3,-3,-3],
[1,0,0,1,0,0,0,1,0,-1,-1,-2,-3,-2,-1,-1,-2,-2,-2,-2,-3,-3,-3,-3,-3,-3,-3,-3,-3,-3,-3,-3,-3],
[0,1,0,0,1,0,1,0,-1,-1,-2,-2,-2,-2,-2,-2,-2,-2,-2,-3,-3,-3,-3,-3,-3,-3,-3,-3,-3,-3,-3,-3,-3],
[1,0,1,0,0,0,1,1,0,-1,-1,-2,-2,-2,-2,-2,-2,-2,-3,-3,-3,-3,-3,-3,-3,-3,-3,-3,-3,-3,-3,-3,-3],
[0,0,0,1,1,0,0,0,-1,0,-2,-2,-3,-2,-2,-2,-3,-3,-3,-3,-3,-3,-3,-3,-2,-3,-3,-3,-3,-3,-3,-3,-3],
[0,1,0,0,0,1,0,-1,-1,-1,-1,-2,-2,-2,-2,-3,-3,-3,-3,-3,-3,-2,-3,-3,-2,-2,-3,-3,-3,-3,-3,-2,-2],
[1,0,0,0,1,1,0,0,0,-1,0,-1,-3,-2,-2,-3,-3,-3,-3,-3,-3,-3,-2,-3,-2,-3,-2,-3,-3,-2,-2,-2,-2],
[0,0,1,1,0,0,-1,0,0,-1,-1,-1,-2,-2,-3,-3,-3,-3,-3,-2,-3,-2,-3,-2,-2,-2,-2,-2,-2,-2,-2,-2,-2],
[0,1,0,1,0,1,0,-1,-1,0,0,-2,-2,-2,-3,-3,-3,-3,-2,-3,-2,-3,-2,-2,-2,-2,-2,-2,-2,-2,-2,-2,-2],
[1,0,0,0,1,0,0,0,1,0,-1,-1,-2,-2,-2,-3,-3,-3,-3,-2,-3,-2,-2,-3,-2,-2,-2,-2,-2,-2,-2,-2,-2],
[0,0,1,0,0,1,0,-1,0,-1,0,0,-2,-3,-3,-3,-3,-3,-2,-3,-2,-3,-2,-2,-2,-2,-2,-2,-2,-2,-2,-2,-2],
[1,0,0,1,0,0,1,0,1,0,-1,-1,-1,-2,-3,-3,-3,-3,-3,-2,-3,-2,-2,-2,-2,-2,-2,-2,-2,-2,-2,-2,-2],
[0,1,0,0,1,1,0,1,0,1,0,0,-1,-2,-2,-3,-3,-3,-2,-3,-2,-3,-2,-2,-2,-2,-2,-2,-2,-2,-2,-2,-2],
[1,0,1,1,0,0,1,-1,1,0,1,0,-1,-2,-2,-3,-3,-3,-3,-2,-2,-2,-2,-2,-2,-2,-2,-2,-2,-2,-2,-2,-1],
[1,1,0,1,0,1,0,0,0,0,0,1,-1,-1,-2,-2,-3,-3,-2,-3,-2,-2,-2,-2,-2,-2,-2,-2,-2,-2,-1,-1,-1],
[0,1,1,0,1,0,1,0,1,0,1,0,0,-1,-2,-2,-3,-2,-3,-2,-2,-2,-2,-2,-2,-2,-2,-2,-1,-1,-1,-1,-1],
[1,0,0,0,0,1,1,0,0,1,0,0,0,-1,-2,-2,-2,-3,-2,-2,-2,-2,-2,-2,-2,-2,-2,-1,-1,-1,-1,-1,-1],
[1,1,0,1,1,0,0,0,1,0,0,1,-1,-1,-1,-2,-2,-2,-2,-2,-2,-2,-2,-2,-1,-1,-1,-1,-1,-1,-1,-1,-1],
[0,1,1,0,0,1,1,0,0,0,1,0,-1,-1,-1,-2,-2,-2,-2,-2,-2,-2,-2,-1,-1,-1,-1,-1,-1,-1,-1,-1,-1],
[1,0,1,1,0,0,0,1,0,1,0,0,0,-1,-1,-1,-2,-2,-2,-1,-1,-1,-1,-1,-1,-1,-1,-1,-1,-1,-1,-1,0],
[0,1,0,0,1,0,1,0,1,0,0,1,0,-1,-1,-1,-1,-2,-1,-2,-1,-1,-1,-1,-1,-1,-1,-1,-1,-1,0,0,0],
[1,0,1,0,0,1,0,1,0,2,0,0,0,0,-1,-1,-1,-1,-1,-1,-1,-1,-1,-1,-1,-1,-1,-1,0,0,0,0,0],
[0,1,0,1,0,0,0,0,1,0,1,0,0,0,-1,0,-1,-1,-1,-1,-1,-1,-1,-1,-1,-1,-1,0,0,0,0,0,0],
[-1,0,1,0,0,-1,0,1,0,1,1,0,0,0,0,0,0,-1,-1,-1,-1,-1,-1,-1,0,-1,0,0,0,0,0,0,0],
[0,0,-1,0,1,0,1,0,1,2,1,0,0,0,0,0,0,0,-1,0,-1,-1,-1,0,0,0,0,0,0,0,0,0,0],
[1,0,0,1,0,1,1,1,2,1,1,1,1,0,0,0,0,0,0,0,-1,0,0,0,0,0,0,0,0,0,0,0,0],
[1,1,0,0,1,1,2,2,2,2,2,1,1,1,1,0,0,0,0,0,0,0,0,0,0,0,0,0,0,0,0,0,0],
[2,1,1,2,2,3,3,3,3,3,2,2,1,1,1,1,0,0,0,0,0,0,0,0,0,0,0,0,0,0,0,0,0],
[3,3,3,4,4,5,5,4,4,3,3,3,2,2,1,1,1,0,0,0,0,0,0,0,0,0,0,0,0,0,0,0,0],
[3,4,4,5,5,5,5,5,4,4,4,3,3,2,2,1,1,1,0,0,0,0,0,0,0,0,0,0,0,0,0,1,1],
[3,4,5,5,5,5,5,4,4,4,4,3,3,2,2,1,1,0,0,0,0,0,0,0,0,0,0,0,0,0,0,1,1],
[2,3,5,5,5,5,4,4,4,4,3,3,3,2,2,1,1,1,1,0,0,0,0,0,0,0,0,0,0,0,1,1,1],
[2,3,4,4,5,5,5,4,4,4,3,3,3,2,2,1,1,1,1,0,1,0,0,0,0,0,0,0,0,1,1,1,1]];
const windVD=[
[-2,-2,-1,-2,-2,-1,-2,-1,-1,-1,-1,-1,-2,-2,-2,-3,-4,-4,-4,-4,-5,-5,-5,-5,-5,-4,-5,-4,-5,-5,-5,-5,-5],
[-2,-1,-2,-2,-1,-2,-1,-2,-1,-1,-1,-1,-1,-2,-3,-3,-4,-5,-5,-5,-5,-5,-5,-5,-5,-5,-5,-5,-5,-5,-5,-5,-5],
[-1,-2,-2,-1,-2,-2,-2,-1,-2,-1,-1,-2,-1,-2,-3,-4,-5,-5,-5,-5,-5,-6,-6,-6,-6,-6,-6,-6,-5,-6,-6,-6,-6],
[-2,-2,-2,-2,-2,-2,-1,-2,-2,-2,-2,-2,-2,-3,-4,-4,-5,-5,-6,-6,-6,-6,-6,-6,-6,-6,-6,-6,-6,-6,-6,-6,-6],
[-2,-1,-2,-2,-1,-2,-2,-2,-2,-2,-2,-3,-3,-3,-4,-5,-5,-6,-6,-6,-6,-7,-6,-7,-6,-6,-6,-6,-6,-6,-6,-6,-6],
[-1,-2,-2,-1,-2,-2,-2,-2,-2,-2,-2,-2,-3,-3,-4,-5,-6,-6,-6,-7,-7,-7,-7,-7,-7,-7,-7,-6,-7,-7,-7,-7,-7],
[-2,-2,-2,-1,-2,-1,-2,-2,-2,-2,-2,-2,-3,-4,-5,-5,-6,-6,-7,-7,-7,-7,-7,-7,-7,-7,-7,-7,-7,-7,-7,-7,-7],
[-1,-2,-1,-2,-2,-1,-2,-1,-2,-2,-2,-3,-3,-4,-5,-6,-6,-7,-7,-7,-7,-8,-8,-7,-7,-7,-8,-7,-7,-7,-7,-7,-7],
[-2,-2,-1,-2,-1,-2,-2,-2,-2,-2,-2,-3,-4,-5,-5,-6,-7,-7,-8,-8,-8,-8,-8,-8,-8,-8,-7,-8,-8,-8,-8,-8,-8],
[-2,-1,-2,-2,-2,-1,-2,-1,-2,-2,-2,-3,-4,-5,-6,-7,-7,-8,-8,-8,-8,-8,-8,-8,-8,-8,-8,-8,-8,-8,-8,-8,-8],
[-1,-2,-2,-1,-2,-2,-2,-2,-1,-2,-3,-3,-4,-5,-6,-7,-8,-8,-8,-9,-9,-8,-8,-8,-8,-8,-8,-8,-8,-8,-8,-8,-8],
[-2,-2,-1,-2,-2,-2,-2,-2,-2,-2,-3,-4,-4,-5,-7,-7,-8,-8,-9,-9,-9,-9,-9,-8,-9,-8,-8,-8,-8,-9,-9,-9,-9],
[-2,-2,-2,-2,-2,-1,-3,-2,-2,-2,-3,-4,-5,-6,-7,-8,-8,-9,-9,-9,-9,-9,-9,-9,-9,-9,-9,-9,-9,-9,-9,-9,-9],
[-2,-2,-2,-2,-2,-2,-2,-3,-2,-2,-3,-4,-5,-6,-8,-8,-9,-9,-9,-9,-10,-9,-9,-9,-9,-9,-9,-9,-9,-9,-9,-9,-9],
[-2,-3,-2,-2,-2,-2,-2,-3,-3,-3,-3,-4,-6,-7,-8,-9,-9,-9,-10,-10,-10,-10,-10,-9,-9,-9,-9,-9,-9,-9,-9,-9,-9],
[-3,-2,-3,-2,-2,-3,-2,-3,-3,-3,-4,-5,-6,-7,-8,-9,-9,-10,-10,-10,-10,-10,-10,-10,-10,-10,-9,-9,-9,-9,-9,-9,-9],
[-3,-3,-3,-2,-3,-3,-3,-3,-3,-3,-4,-5,-6,-8,-9,-9,-10,-10,-10,-10,-10,-10,-10,-10,-10,-10,-10,-10,-10,-10,-9,-9,-9],
[-3,-3,-3,-3,-3,-3,-3,-3,-3,-3,-4,-5,-7,-8,-9,-9,-10,-10,-10,-10,-10,-10,-10,-10,-10,-10,-10,-10,-10,-10,-10,-10,-10],
[-2,-3,-3,-3,-3,-3,-3,-3,-3,-3,-4,-6,-7,-9,-9,-10,-10,-10,-11,-10,-10,-10,-10,-10,-10,-10,-10,-10,-10,-10,-10,-10,-10],
[-2,-3,-3,-3,-3,-3,-3,-3,-3,-3,-5,-6,-8,-9,-10,-10,-11,-11,-11,-11,-11,-11,-11,-10,-10,-10,-10,-10,-10,-10,-10,-10,-10],
[-3,-2,-3,-3,-3,-3,-3,-3,-3,-4,-5,-7,-9,-10,-10,-11,-11,-11,-11,-11,-11,-11,-11,-11,-11,-11,-11,-11,-11,-11,-11,-11,-10],
[-2,-3,-3,-3,-3,-3,-3,-3,-3,-4,-6,-8,-9,-10,-11,-11,-11,-11,-11,-11,-11,-11,-11,-11,-11,-11,-11,-11,-11,-11,-10,-10,-10],
[-3,-2,-3,-3,-2,-3,-3,-3,-3,-3,-6,-8,-10,-11,-11,-11,-12,-12,-12,-11,-11,-11,-11,-11,-11,-11,-11,-11,-11,-11,-11,-10,-10],
[-3,-3,-2,-3,-3,-3,-3,-2,-3,-3,-7,-9,-10,-11,-12,-12,-12,-12,-12,-12,-12,-12,-11,-11,-11,-11,-11,-11,-11,-11,-11,-11,-11],
[-2,-3,-3,-2,-3,-3,-3,-3,-3,-2,-6,-10,-11,-12,-12,-12,-12,-12,-12,-12,-12,-12,-12,-11,-11,-11,-11,-11,-11,-11,-11,-11,-11],
[-2,-2,-3,-3,-3,-2,-3,-3,-2,-3,-5,-9,-11,-12,-12,-13,-12,-12,-12,-12,-12,-12,-12,-12,-12,-11,-11,-11,-11,-11,-11,-11,-11],
[-2,-2,-2,-2,-2,-3,-3,-2,-3,-4,-5,-9,-11,-12,-12,-13,-13,-12,-12,-12,-12,-12,-12,-12,-12,-12,-11,-11,-11,-11,-11,-11,-11],
[-1,-2,-2,-2,-2,-2,-2,-3,-3,-3,-5,-8,-10,-12,-12,-13,-13,-12,-12,-12,-12,-12,-12,-12,-12,-12,-12,-12,-11,-11,-11,-11,-11],
[-1,-1,-1,-1,-1,-1,-2,-2,-2,-3,-4,-6,-9,-11,-12,-12,-13,-13,-12,-12,-12,-12,-12,-12,-12,-12,-12,-12,-12,-11,-11,-11,-11],
[1,0,-1,-1,-1,-1,-1,-2,-2,-2,-3,-5,-7,-10,-11,-12,-12,-13,-12,-12,-12,-12,-12,-12,-12,-12,-12,-12,-12,-11,-11,-11,-11],
[2,2,1,0,-1,-1,-1,-1,-2,-2,-3,-3,-5,-7,-9,-11,-12,-12,-12,-12,-12,-12,-12,-12,-12,-12,-12,-12,-12,-12,-11,-11,-11],
[3,2,2,1,0,-1,-1,-1,-2,-2,-2,-3,-4,-6,-8,-10,-12,-12,-12,-12,-12,-12,-12,-12,-12,-12,-12,-12,-12,-12,-12,-11,-11],
[3,3,2,1,0,-1,-1,-2,-2,-3,-3,-3,-4,-5,-7,-9,-11,-12,-12,-12,-12,-12,-12,-12,-12,-12,-12,-12,-12,-12,-11,-11,-11]];

// Coastline, degrees, north to south, ending with Ilha Grande.
const coastLon=[-38.99,-39.08,-38.93,-39.06,-38.93,-39.04,-39.06,-38.97,-38.87,-39.01,-39.16,-39.16,-39.58,-39.71,-39.68,-40.05,-40.21,-40.31,-40.78,-40.99,-40.99,-41.56,-41.98,-41.98,-42.23,-43.05,-43.12,-43.06,-43.04,-43.17,-43.27,-43.17,-43.57,-43.6,-43.87,-44.04,-44.18,-44.25,-44.35,-44.25,-44.11,-44.2,-44.34,-44.54,-44.67,-45.01,-45.32,-45.24,-45.43,-45.48,-45.84,-46.37,-46.63];
const coastLat=[-13.27,-13.43,-13.53,-13.68,-13.95,-14.12,-14.6,-15.14,-15.82,-16.31,-16.99,-17.72,-17.97,-18.45,-19.43,-19.72,-20.21,-20.5,-20.79,-21.48,-22.01,-22.21,-22.55,-22.94,-22.94,-22.96,-22.9,-22.78,-22.67,-22.7,-22.74,-22.97,-23.06,-23.01,-22.9,-22.95,-23.02,-22.99,-23.0,-23.07,-23.14,-23.2,-23.17,-23.28,-23.08,-23.43,-23.57,-23.86,-23.86,-23.72,-23.77,-23.96,-24.09];

const coarseLonTicks=[-46,-44,-42,-40,-38,-36,-34];
const coarseLatTicks=[-14,-16,-18,-20,-22,-24,-26];
const fineLonTicks=[-44,-42,-40,-38,-36];
const fineLatTicks=[-16,-18,-20,-22];
const bandLevels=[1004,1005,1006,1007,1008,1009,1010,1011,1012,1013,1014,1015,1016];
const bandColors=["#10437c","#2a70b1","#4a97c5","#8dbfdc","#c1dcec","#e6eff4","#f8eae2","#f9c9b1","#f09c7b","#d6604e","#b72832","#840a25"];
const colorbarTicks=[1004,1006,1008,1010,1012,1014,1016];

const NS='http://www.w3.org/2000/svg';
const svg=document.getElementById('figure');
function make(tag,attrs,parent){
  const el=document.createElementNS(NS,tag);
  for(const k in attrs)el.setAttribute(k,attrs[k]);
  (parent||svg).appendChild(el);
  return el;
}
function domainXY(p,s,t){
  const xl=p.tl[0]+(p.bl[0]-p.tl[0])*t, xr=p.tr[0]+(p.br[0]-p.tr[0])*t;
  const b=4*s*(1-s);
  const yt=p.tl[1]+(p.tr[1]-p.tl[1])*s+p.bulgeTop*b;
  const yb=p.bl[1]+(p.br[1]-p.bl[1])*s+p.bulgeBottom*b;
  return [xl+(xr-xl)*s, yt+(yb-yt)*t];
}
function lonToX(p,lon){return p.lonRef+(lon-p.lonRefValue)*p.pxPerLon;}
function latToY(p,lat){return p.latRef-(lat-p.latRefValue)*p.pxPerLat;}

function clipHalf(poly,level,above){
  const out=[];
  for(let k=0;k<poly.length;k++){
    const a=poly[k], b=poly[(k+1)%poly.length];
    const ina=above?a[2]>=level:a[2]<level, inb=above?b[2]>=level:b[2]<level;
    if(ina)out.push(a);
    if(ina!==inb){
      const f=(level-a[2])/(b[2]-a[2]);
      out.push([a[0]+(b[0]-a[0])*f,a[1]+(b[1]-a[1])*f,level]);
    }
  }
  return out;
}
function drawBands(group,p,grid){
  const sub=3, rows=grid.length, cols=grid[0].length;
  const N=(cols-1)*sub+1, M=(rows-1)*sub+1, V=[];
  for(let j=0;j<M;j++){
    const fy=j/sub, j0=Math.min(Math.floor(fy),rows-2), ty=fy-j0, line=[];
    for(let i=0;i<N;i++){
      const fx=i/sub, i0=Math.min(Math.floor(fx),cols-2), tx=fx-i0;
      const a=grid[j0][i0],b=grid[j0][i0+1],c=grid[j0+1][i0],d=grid[j0+1][i0+1];
      line.push(1000+((a*(1-tx)+b*tx)*(1-ty)+(c*(1-tx)+d*tx)*ty)/10);
    }
    V.push(line);
  }
  const S=i=>i/(N-1), T=j=>j/(M-1);
  const pt=(s,t)=>{const q=domainXY(p,s,t);return q[0].toFixed(1)+' '+q[1].toFixed(1);};
  bandColors.forEach((color,bandIndex)=>{
    const lo=bandLevels[bandIndex], hi=bandLevels[bandIndex+1];
    const pieces=[];
    for(let j=0;j<M-1;j++){
      let run=-1;
      const flush=end=>{
        if(run<0)return;
        pieces.push('M'+pt(S(run),T(j))+'L'+pt(S(end),T(j))+'L'+pt(S(end),T(j+1))+'L'+pt(S(run),T(j+1))+'Z');
        run=-1;
      };
      for(let i=0;i<N-1;i++){
        const a=V[j][i],b=V[j][i+1],c=V[j+1][i+1],d=V[j+1][i];
        const mn=Math.min(a,b,c,d), mx=Math.max(a,b,c,d);
        if(mn>=lo&&mx<hi){
          if(run<0)run=i;
          if(i+1-run>=12)flush(i+1);
          continue;
        }
        flush(i);
        if(mx<lo||mn>=hi)continue;
        let poly=[[S(i),T(j),a],[S(i+1),T(j),b],[S(i+1),T(j+1),c],[S(i),T(j+1),d]];
        poly=clipHalf(poly,lo,true);
        if(poly.length)poly=clipHalf(poly,hi,false);
        if(poly.length>2)pieces.push('M'+poly.map(q=>pt(q[0],q[1])).join('L')+'Z');
      }
      flush(N-1);
    }
    const band=make('path',{d:pieces.join(''),fill:color,stroke:color,'stroke-width':0.7,'stroke-linejoin':'round'},group);
    
    
  });
}
function arrowPoints(x,y,dx,dy,w,minLen){
  const raw=Math.hypot(dx,dy);
  if(raw<0.5)return null;
  const len=Math.max(raw,minLen||0);
  const ux=dx/raw, uy=dy/raw;
  const hl=5*w, ha=4.5*w, hw=3*w;
  const f=len<hl?len/hl:1;
  const L=len/f, local=[[0,-w/2],[L-ha,-w/2],[L-hl,-hw/2],[L,0],[L-hl,hw/2],[L-ha,w/2],[0,w/2]];
  return local.map(q=>{
    const a=q[0]*f, b=q[1]*f;
    return (x+a*ux-b*uy).toFixed(1)+','+(y+a*uy+b*ux).toFixed(1);
  }).join(' ');
}
function drawPanel(p){
  const g=make('g',{});
  
  
  const cid='clip-'+p.id;
  const cp=make('clipPath',{id:cid},g);
  make('rect',{x:p.left,y:p.top,width:p.right-p.left,height:p.bottom-p.top},cp);
  const inner=make('g',{'clip-path':'url(#'+cid+')'},g);
  const fills=make('g',{},inner);
  
  
  drawBands(fills,p,p.mslp);

  const coastPts=coastLon.map((lon,i)=>lonToX(p,lon).toFixed(1)+','+latToY(p,coastLat[i]).toFixed(1)).join(' ');
  const coast=make('polyline',{points:coastPts,fill:'none',stroke:'#000','stroke-width':2.4,'stroke-linejoin':'round'},inner);
  
  

  const arrows=make('g',{fill:'#000'},inner);
  
  
  p.windU.forEach((row,j)=>{
    row.forEach((u,i)=>{
      const v=p.windV[j][i];
      const q=domainXY(p,p.s0+i*p.ds,p.t0+j*p.dt);
      const pts=arrowPoints(q[0],q[1],u*p.scale,-v*p.scale,p.shaft,p.minLen);
      if(!pts)return;
      const arrow=make('polygon',{points:pts},arrows);
      
      
    });
  });

  const gridStyle={stroke:'#808080','stroke-opacity':0.5,'stroke-width':2.6,'stroke-dasharray':'9.6 4.2',fill:'none'};
  p.lonTicks.forEach(lon=>{
    const x=lonToX(p,lon);
    const line=make('line',Object.assign({x1:x,x2:x,y1:p.top,y2:p.bottom},gridStyle),inner);
    
    
    const t=make('text',{x:x,y:p.xLabelY,'text-anchor':'middle','font-size':43.75},g);
    t.textContent=Math.abs(lon)+'°W';
    
    
  });
  p.latTicks.forEach(lat=>{
    const y=latToY(p,lat);
    const line=make('line',Object.assign({x1:p.left,x2:p.right,y1:y,y2:y},gridStyle),inner);
    
    
    if(p.yLabelX){
      const t=make('text',{x:p.yLabelX,y:y+p.yLabelDy,'text-anchor':'end','font-size':43.75},g);
      t.textContent=Math.abs(lat)+'°S';
      
      
    }
  });
  const frame=make('rect',{x:p.left,y:p.top,width:p.right-p.left,height:p.bottom-p.top,fill:'none',stroke:'#000','stroke-width':3.5},g);
  
  
  const title=make('text',{x:(p.left+p.right)/2+1,y:p.titleY,'text-anchor':'middle','font-size':p.titleSize},g);
  title.textContent=p.title;
  
  
  const tag=make('text',{x:p.tagX,y:p.tagY,'font-size':56,style:'fill:#ff0000'},g);
  tag.textContent=p.id+')';
  
  
}
function drawColorbar(top,bottom,tipTop,tipBottom){
  const g=make('g',{});
  
  
  const xl=2863,xr=2923,xm=2893;
  const lo=bandLevels[0],hi=bandLevels[bandLevels.length-1];
  const cbarY=v=>bottom-(v-lo)/(hi-lo)*(bottom-top);
  const over=make('polygon',{points:xl+','+top+' '+xm+','+tipTop+' '+xr+','+top,fill:'#67001f'},g);
  
  
  const under=make('polygon',{points:xl+','+bottom+' '+xm+','+tipBottom+' '+xr+','+bottom,fill:'#053061'},g);
  
  
  bandColors.forEach((c,i)=>{
    const yA=cbarY(bandLevels[i+1]), yB=cbarY(bandLevels[i]);
    const r=make('rect',{x:xl,y:yA,width:xr-xl,height:yB-yA+0.5,fill:c},g);
    
    
  });
  const pts=[[xl,top],[xm,tipTop],[xr,top],[xr,bottom],[xm,tipBottom],[xl,bottom]].map(q=>q.join(',')).join(' ');
  const outline=make('polygon',{points:pts,fill:'none',stroke:'#000','stroke-width':3.5},g);
  
  
  colorbarTicks.forEach(v=>{
    const y=cbarY(v);
    const tick=make('line',{x1:xr,x2:2937,y1:y,y2:y,stroke:'#000','stroke-width':3.5},g);
    
    
    const t=make('text',{x:2955,y:y+16,'font-size':43.75},g);
    t.textContent=v;
    
    
  });
  const cy=(top+bottom)/2;
  const lab=make('text',{x:0,y:0,'text-anchor':'middle','font-size':43.75,transform:'translate(3128 '+cy+') rotate(-90)'},g);
  lab.textContent='MSLP (hPa)';
  
  
}
function drawKey(x1,x2,arrowY,baseY,w){
  const g=make('g',{});
  
  
  const a=make('polygon',{points:arrowPoints(x1,arrowY,x2-x1,0,w,0),fill:'#000'},g);
  
  
  [['10',2820,baseY,48],['m',2905,baseY,48],['s',2975,baseY,48],['\u22121',3006,baseY-17,34]].forEach(d=>{
    const t=make('text',{x:d[1],y:d[2],'font-size':d[3]},g);
    t.textContent=d[0];
    
    
  });
}
const coarseGrid={s0:0.004,ds:0.048,t0:0.0366,dt:0.0455,scale:4.7,shaft:3,minLen:11,pxPerLon:91.65,pxPerLat:91.6,latRef:163.5,latRefValue:-14,lonRefValue:-46,top:95,bottom:1277,xLabelY:1332,lonTicks:coarseLonTicks,latTicks:coarseLatTicks,bulgeTop:9,bulgeBottom:11};
const fineGrid={s0:0,ds:0.0304,t0:0.019,dt:0.0305,scale:2.8,shaft:2.8,minLen:9,pxPerLon:138.7,pxPerLat:138.8,latRef:1522,latRefValue:-16,lonRefValue:-44,top:1469,bottom:2620,xLabelY:2677,lonTicks:fineLonTicks,latTicks:fineLatTicks,bulgeTop:7,bulgeBottom:9};
drawPanel(Object.assign({},coarseGrid,{id:'a',mslp:mslpA,windU:windUA,windV:windVA,left:177.5,right:1421,lonRef:234.5,tl:[244,118],tr:[1352,117],br:[1397,1241],bl:[201,1241],title:'MSLP + WIND – D02 STANDARD – 2016-01-16T00:00',titleSize:37.5,titleY:69,tagX:128,tagY:68,yLabelX:155,yLabelDy:12.5}));
drawPanel(Object.assign({},coarseGrid,{id:'b',mslp:mslpB,windU:windUB,windV:windVB,left:1495,right:2740,lonRef:1553.4,tl:[1562,118],tr:[2670,117],br:[2716,1241],bl:[1519,1241],title:'MSLP + WIND – D02 HR – 2016-01-16T00:00',titleSize:39.6,titleY:70,tagX:1447,tagY:68}));
drawPanel(Object.assign({},fineGrid,{id:'c',mslp:mslpC,windU:windUC,windV:windVC,left:165.5,right:1420.5,lonRef:215,tl:[218,1493],tr:[1368,1493],br:[1397,2588],bl:[190,2589],title:'MSLP + WIND – D03 STANDARD – 2016-01-16T00:00',titleSize:39.6,titleY:1444,tagX:115,tagY:1444,yLabelX:143,yLabelDy:16}));
drawPanel(Object.assign({},fineGrid,{id:'d',mslp:mslpD,windU:windUD,windV:windVD,left:1483,right:2740,lonRef:1534,tl:[1536,1493],tr:[2686,1493],br:[2716,2588],bl:[1508,2589],title:'MSLP + WIND – D03 HR – 2016-01-16T00:00',titleSize:39.6,titleY:1444,tagX:1432,tagY:1444}));
drawColorbar(147,1223,93,1277);
drawColorbar(1507,2582,1453,2637);
drawKey(2743,2789,58,72,2.4);
drawKey(2761,2789,1434,1447,2.4);
</script>
</body>
</html>
